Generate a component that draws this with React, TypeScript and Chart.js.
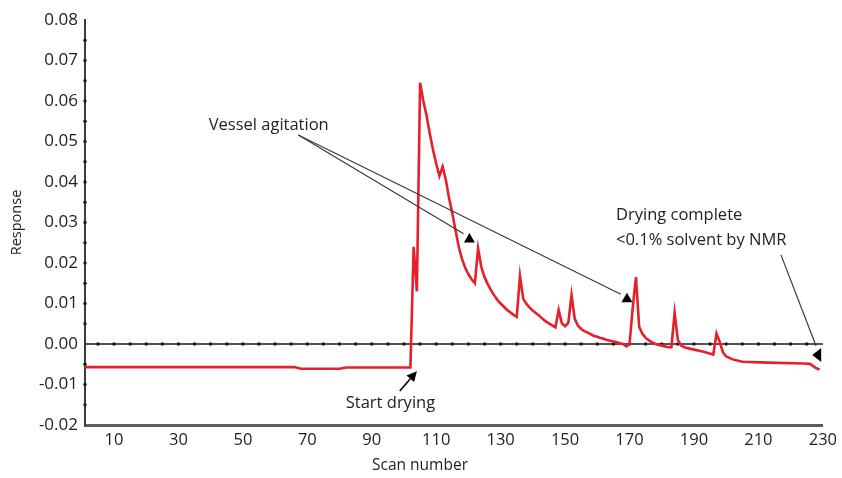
import { useEffect, useRef } from 'react';
import { Chart, registerables } from 'chart.js';

Chart.register(...registerables);

// ---- data ----
const scans = [
  1, 66, 68, 80, 82, 102, 103, 104, 105, 106, 107, 108, 109, 110, 111, 112, 113, 114, 115, 116,
  117, 118, 119, 120, 121, 122, 123, 124, 125, 126, 127, 128, 129, 130, 131, 132, 133, 134, 135, 136,
  137, 138, 139, 140, 141, 142, 143, 144, 145, 146, 147, 148, 149, 150, 151, 152, 153, 154, 155, 156,
  157, 158, 159, 160, 161, 162, 163, 164, 165, 166, 167, 168, 169, 170, 171, 172, 173, 174, 175, 176,
  177, 178, 180, 182, 183, 184, 185, 186, 187, 189, 193, 196, 197, 198, 199, 200, 202, 205, 213, 224,
  226, 228, 229,
];
const response = [
  -0.0057, -0.0057, -0.0061, -0.0061, -0.0058, -0.0058, 0.024, 0.013, 0.0645, 0.060, 0.0565, 0.052, 0.048, 0.0445, 0.0415, 0.0438, 0.0405, 0.036, 0.0323, 0.028,
  0.024, 0.021, 0.0188, 0.0172, 0.016, 0.015, 0.0236, 0.019, 0.0165, 0.0148, 0.0133, 0.012, 0.0109, 0.010, 0.0092, 0.0084, 0.0078, 0.0072, 0.0067, 0.0168,
  0.0112, 0.0099, 0.009, 0.0082, 0.0076, 0.007, 0.0062, 0.0056, 0.0051, 0.0046, 0.0041, 0.0084, 0.0051, 0.0044, 0.0052, 0.0121, 0.0062, 0.0045, 0.0037, 0.0032,
  0.0028, 0.0024, 0.002, 0.0018, 0.0015, 0.0013, 0.001, 0.0008, 0.0006, 0.0004, 0.0002, 0.0, -0.0006, 0.0, 0.009, 0.0165, 0.0042, 0.0025, 0.0015, 0.0009,
  0.0004, 0.0, -0.0004, -0.0008, -0.0008, 0.0077, 0.001, -0.0004, -0.0008, -0.0012, -0.0019, -0.0026, 0.0026, 0.0005, -0.0021, -0.0031, -0.0038, -0.0044, -0.0046, -0.0048,
  -0.0049, -0.006, -0.0063,
];

const xMin = 1;
const xMax = 230;
const xTickValues = [10, 30, 50, 70, 90, 110, 130, 150, 170, 190, 210, 230];
const xTickLabels = ['10', '30', '50', '70', '90', '110', '130', '150', '170', '190', '210', '230'];
const yMin = -0.02;
const yMax = 0.08;
const yTickValues = [-0.02, -0.01, 0, 0.01, 0.02, 0.03, 0.04, 0.05, 0.06, 0.07, 0.08];
const yTickLabels = ['-0.02', '-0.01', '0.00', '0.01', '0.02', '0.03', '0.04', '0.05', '0.06', '0.07', '0.08'];
const yMinorTicks = [-0.015, -0.01, -0.005, 0.005, 0.01, 0.015, 0.02, 0.025, 0.03, 0.035, 0.04, 0.045, 0.05, 0.055, 0.06, 0.065, 0.07, 0.075];
const zeroTickStep = 5;
const xTitle = 'Scan number';
const yTitle = 'Response';

// annotation anchors, in data units (scan, response)
const vesselText = { x: 39.4, y: 0.0541, text: 'Vessel agitation' };
const vesselFrom = { x: 67.2, y: 0.0516 };
const vesselTargets = [
  { x: 118.5, y: 0.0272, hx: 120.3, hy: 0.0262 },
  { x: 167.3, y: 0.0123, hx: 169.2, hy: 0.0114 },
];
const startText = { x: 95.8, y: -0.0146, text: 'Start drying' };
const startArrow = { x1: 98.7, y1: -0.0116, x2: 104.0, y2: -0.0067 };
const dryText = { x: 165.8, y1: 0.0319, y2: 0.0257, line1: 'Drying complete', line2: '<0.1% solvent by NMR' };
const dryArrow = { x1: 217.0, y1: 0.022, x2: 227.9, y2: -0.0005, hx: 226.7, hy: -0.0027 };

const FONT = '"Open Sans", "Noto Sans", sans-serif';
const TEXT = '#222222';
const RED = '#e5202a';

const overlayPlugin = {
  id: 'overlay',
  beforeDatasetsDraw(chart: any) {
    const { ctx, chartArea, scales } = chart;
    const xs = scales.x;
    const ys = scales.y;
    const y0 = ys.getPixelForValue(0);
    ctx.save();
    ctx.strokeStyle = '#1a1a1a';
    ctx.lineWidth = 1.6;
    ctx.beginPath();
    ctx.moveTo(chartArea.left, y0);
    ctx.lineTo(chartArea.right, y0);
    ctx.stroke();
    ctx.fillStyle = '#1a1a1a';
    for (let k = 1; k * zeroTickStep < xMax; k++) {
      const px = xs.getPixelForValue(k * zeroTickStep);
      ctx.beginPath();
      ctx.arc(px, y0, 1.7, 0, Math.PI * 2);
      ctx.fill();
    }
    for (const v of yMinorTicks) {
      const py = ys.getPixelForValue(v);
      ctx.beginPath();
      ctx.arc(chartArea.left, py, 1.7, 0, Math.PI * 2);
      ctx.fill();
    }
    ctx.restore();
  },
  afterDraw(chart: any) {
    const { ctx, scales, chartArea } = chart;
    const X = (v: number) => scales.x.getPixelForValue(v);
    const Y = (v: number) => scales.y.getPixelForValue(v);
    ctx.save();

    // x axis title (offset left of centre as in the original)
    ctx.fillStyle = TEXT;
    ctx.font = `15.5px ${FONT}`;
    ctx.textAlign = 'center';
    ctx.textBaseline = 'middle';
    ctx.fillText(xTitle, chartArea.left + 335, chart.height - 12);

    ctx.font = `16.5px ${FONT}`;

    // Vessel agitation
    ctx.textAlign = 'left';
    ctx.fillText(vesselText.text, X(vesselText.x), Y(vesselText.y));
    ctx.strokeStyle = '#3a3a3a';
    ctx.lineWidth = 1.2;
    for (const t of vesselTargets) {
      ctx.beginPath();
      ctx.moveTo(X(vesselFrom.x), Y(vesselFrom.y));
      ctx.lineTo(X(t.x), Y(t.y));
      ctx.stroke();
      const cx = X(t.hx);
      const cy = Y(t.hy);
      ctx.fillStyle = '#000';
      ctx.beginPath();
      ctx.moveTo(cx, cy - 5);
      ctx.lineTo(cx - 5.5, cy + 4.5);
      ctx.lineTo(cx + 5.5, cy + 4.5);
      ctx.closePath();
      ctx.fill();
    }

    // Start drying
    ctx.fillStyle = TEXT;
    ctx.textAlign = 'center';
    ctx.fillText(startText.text, X(startText.x), Y(startText.y));
    {
      const x1 = X(startArrow.x1), y1 = Y(startArrow.y1);
      const x2 = X(startArrow.x2), y2 = Y(startArrow.y2);
      const dx = x2 - x1, dy = y2 - y1;
      const len = Math.hypot(dx, dy);
      const ux = dx / len, uy = dy / len;
      const hl = 10, hw = 5;
      const bx = x2 - ux * hl, by = y2 - uy * hl;
      ctx.strokeStyle = '#111';
      ctx.lineWidth = 1.8;
      ctx.beginPath();
      ctx.moveTo(x1, y1);
      ctx.lineTo(bx, by);
      ctx.stroke();
      ctx.fillStyle = '#000';
      ctx.beginPath();
      ctx.moveTo(x2, y2);
      ctx.lineTo(bx - uy * hw, by + ux * hw);
      ctx.lineTo(bx + uy * hw, by - ux * hw);
      ctx.closePath();
      ctx.fill();
    }

    // Drying complete
    ctx.fillStyle = TEXT;
    ctx.textAlign = 'left';
    ctx.fillText(dryText.line1, X(dryText.x), Y(dryText.y1));
    ctx.fillText(dryText.line2, X(dryText.x), Y(dryText.y2));
    ctx.strokeStyle = '#3a3a3a';
    ctx.lineWidth = 1.2;
    ctx.beginPath();
    ctx.moveTo(X(dryArrow.x1), Y(dryArrow.y1));
    ctx.lineTo(X(dryArrow.x2), Y(dryArrow.y2));
    ctx.stroke();
    {
      const tx = X(dryArrow.hx), ty = Y(dryArrow.hy);
      ctx.fillStyle = '#000';
      ctx.beginPath();
      ctx.moveTo(tx, ty);
      ctx.lineTo(tx + 9, ty - 7);
      ctx.lineTo(tx + 9, ty + 7);
      ctx.closePath();
      ctx.fill();
    }
    ctx.restore();
  },
};

export default function App() {
  const ref = useRef<HTMLCanvasElement | null>(null);

  useEffect(() => {
    document.body.style.margin = '0';
    const canvas = ref.current;
    if (!canvas) return;
    const chart = new Chart(canvas, {
      type: 'line',
      data: {
        datasets: [
          {
            label: 'Response',
            data: scans.map((s, i) => ({ x: s, y: response[i] })),
            borderColor: RED,
            borderWidth: 2.6,
            pointRadius: 0,
            tension: 0,
            fill: false,
          },
        ],
      },
      options: {
        responsive: false,
        animation: false,
        events: [],
        layout: { padding: { top: 20, right: 16, left: 0, bottom: 0 } },
        plugins: { legend: { display: false }, tooltip: { enabled: false } },
        scales: {
          x: {
            type: 'linear',
            min: xMin,
            max: xMax,
            afterBuildTicks: (s: any) => {
              s.ticks = xTickValues.map((v) => ({ value: v }));
            },
            afterFit: (s: any) => {
              s.height = 53;
            },
            ticks: {
              callback: (_v: any, i: number) => xTickLabels[i],
              font: { family: FONT, size: 16.5 },
              color: TEXT,
              padding: 5,
              maxRotation: 0,
              autoSkip: false,
            },
            grid: { display: false, drawTicks: false },
            border: { display: true, color: '#5c5c5c', width: 3 },
            title: { display: false },
          },
          y: {
            type: 'linear',
            min: yMin,
            max: yMax,
            afterBuildTicks: (s: any) => {
              s.ticks = yTickValues.map((v) => ({ value: v }));
            },
            afterFit: (s: any) => {
              s.width = 85;
            },
            ticks: {
              callback: (_v: any, i: number) => yTickLabels[i],
              font: { family: FONT, size: 17 },
              color: TEXT,
              padding: 7,
            },
            grid: { display: false, drawTicks: false },
            border: { display: true, color: '#3c3c3c', width: 2 },
            title: {
              display: true,
              text: yTitle,
              font: { family: FONT, size: 14.5 },
              color: TEXT,
              padding: { top: 8, bottom: 0 },
            },
          },
        },
      },
      plugins: [overlayPlugin],
    } as any);
    return () => chart.destroy();
  }, []);

  return <canvas ref={ref} width={842} height={478} style={{ display: 'block' }} />;
}
